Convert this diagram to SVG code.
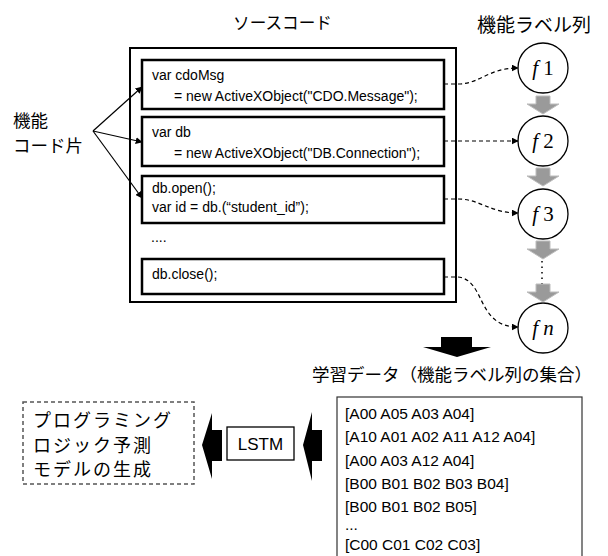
<svg xmlns="http://www.w3.org/2000/svg" width="608" height="556" viewBox="0 0 608 556">
  <style>
    .jp { font-family: "Noto Sans CJK JP", "Noto Sans", sans-serif; fill: #000; }
    .code { font-family: "Liberation Sans", Arial, sans-serif; font-size: 14px; fill: #000; }
    .data { font-family: "Liberation Sans", Arial, sans-serif; font-size: 15.5px; fill: #000; }
    .frag { fill: #fff; stroke: #000; stroke-width: 2.5; }
    .lbl { fill: #fff; stroke: #000; stroke-width: 1.3; }
    .fn { font-family: "Liberation Serif", "Times New Roman", serif; font-size: 21px; fill: #000; }
    .dash { fill: none; stroke: #000; stroke-width: 1.2; stroke-dasharray: 4 3; marker-end: url(#tip); }
    .solid { fill: none; stroke: #000; stroke-width: 1.2; marker-end: url(#tip); }
    .gray { fill: #9a9a9a; stroke: #bdbdbd; stroke-width: 1; }
    .blk { fill: #000; }
  </style>
  <defs>
    <marker id="tip" viewBox="0 0 10 10" refX="9" refY="5" markerWidth="7" markerHeight="7" markerUnits="userSpaceOnUse" orient="auto">
      <path d="M0,0 L10,5 L0,10 z" fill="#000"/>
    </marker>
    <path id="grayArrow" d="M-7,0 H7 V8 H16 L0,18 L-16,8 H-7 z"/>
  </defs>

  <!-- titles -->
  <text class="jp" x="233" y="29" font-size="17" textLength="99" lengthAdjust="spacingAndGlyphs">ソースコード</text>
  <text class="jp" x="477" y="32" font-size="19">機能ラベル列</text>

  <!-- source code container -->
  <g id="source">
    <rect x="130" y="48" width="326" height="254" fill="#fff" stroke="#000" stroke-width="2"/>
    <text class="code" x="151" y="242">....</text>
  </g>

  <g id="frag1">
    <rect class="frag" x="142" y="60" width="302" height="49"/>
    <text class="code" x="152" y="80">var cdoMsg</text>
    <text class="code" x="174" y="101">= new ActiveXObject("CDO.Message");</text>
  </g>
  <g id="frag2">
    <rect class="frag" x="142" y="117" width="302" height="49"/>
    <text class="code" x="152" y="137">var db</text>
    <text class="code" x="174" y="158">= new ActiveXObject("DB.Connection");</text>
  </g>
  <g id="frag3">
    <rect class="frag" x="142" y="176" width="302" height="47"/>
    <text class="code" x="152" y="193">db.open();</text>
    <text class="code" x="152" y="212">var id = db.(“student_id”);</text>
  </g>
  <g id="frag4">
    <rect class="frag" x="142" y="259" width="302" height="35"/>
    <text class="code" x="152" y="279">db.close();</text>
  </g>

  <!-- fragment label -->
  <g id="fragLabel">
    <text class="jp" x="13" y="127" font-size="17.5">機能</text>
    <text class="jp" x="13" y="152" font-size="17.5">コード片</text>
  </g>

  <!-- function label nodes -->
  <g id="f1">
    <circle class="lbl" cx="543" cy="68" r="25"/>
    <text class="fn" x="543" y="75" text-anchor="middle"><tspan font-style="italic">f</tspan> 1</text>
  </g>
  <g id="f2">
    <circle class="lbl" cx="543" cy="141" r="25"/>
    <text class="fn" x="543" y="148" text-anchor="middle"><tspan font-style="italic">f</tspan> 2</text>
  </g>
  <g id="f3">
    <circle class="lbl" cx="543" cy="214" r="25"/>
    <text class="fn" x="543" y="221" text-anchor="middle"><tspan font-style="italic">f</tspan> 3</text>
  </g>
  <g id="fn">
    <circle class="lbl" cx="543" cy="328" r="25"/>
    <text class="fn" x="543" y="335" text-anchor="middle"><tspan font-style="italic">f n</tspan></text>
  </g>

  <!-- training data -->
  <g id="trainingData">
    <text class="jp" x="312" y="381" font-size="17.5">学習データ（機能ラベル列の集合）</text>
    <rect x="337" y="397" width="245" height="170" fill="#fff" stroke="#333" stroke-width="1.2"/>
    <text class="data" x="345" y="419">[A00 A05 A03 A04]</text>
    <text class="data" x="345" y="442">[A10 A01 A02 A11 A12 A04]</text>
    <text class="data" x="345" y="466">[A00 A03 A12 A04]</text>
    <text class="data" x="345" y="489">[B00 B01 B02 B03 B04]</text>
    <text class="data" x="345" y="512">[B00 B01 B02 B05]</text>
    <text class="data" x="345" y="530">...</text>
    <text class="data" x="345" y="550">[C00 C01 C02 C03]</text>
  </g>

  <g id="lstm">
    <rect x="227" y="427" width="67" height="33" fill="#fff" stroke="#000" stroke-width="1.3"/>
    <text x="260.5" y="450" text-anchor="middle" font-family="Liberation Sans, Arial, sans-serif" font-size="17">LSTM</text>
  </g>

  <g id="model">
    <rect x="23" y="402" width="171" height="82" fill="#fff" stroke="#555" stroke-width="1.5" stroke-dasharray="4 3"/>
    <text class="jp" x="33" y="427" font-size="18" letter-spacing="2">プログラミング</text>
    <text class="jp" x="33" y="452" font-size="18" letter-spacing="2">ロジック予測</text>
    <text class="jp" x="33" y="476" font-size="18" letter-spacing="2">モデルの生成</text>
  </g>

  <!-- connectors -->
  <g id="connectors">
    <path class="solid" d="M93,131 L142,87"/>
    <path class="solid" d="M93,131 L142,142"/>
    <path class="solid" d="M93,131 L142,198"/>

    <path class="dash" d="M444,84 H458 C480,84 488,68 518,68"/>
    <path class="dash" d="M444,141 H518"/>
    <path class="dash" d="M444,199 H458 C480,199 490,213 518,213"/>
    <path class="dash" d="M444,277 H458 C486,280 476,327 518,327"/>

    <use href="#grayArrow" class="gray" x="543" y="96"/>
    <use href="#grayArrow" class="gray" x="543" y="168"/>
    <use href="#grayArrow" class="gray" x="543" y="241"/>
    <path d="M542,261 V284" fill="none" stroke="#000" stroke-width="1.5" stroke-dasharray="1.5 4"/>
    <use href="#grayArrow" class="gray" x="543" y="284"/>

    <path class="blk" d="M441,337 H472 V347 H491 L457,357 L423,347 H441 z"/>
    <path class="blk" d="M322,430 V461 H312 V481 L303,445 L312,412 V430 z"/>
    <path class="blk" d="M222,430 V461 H212 V479 L202,445 L212,413 V430 z"/>
  </g>
</svg>
